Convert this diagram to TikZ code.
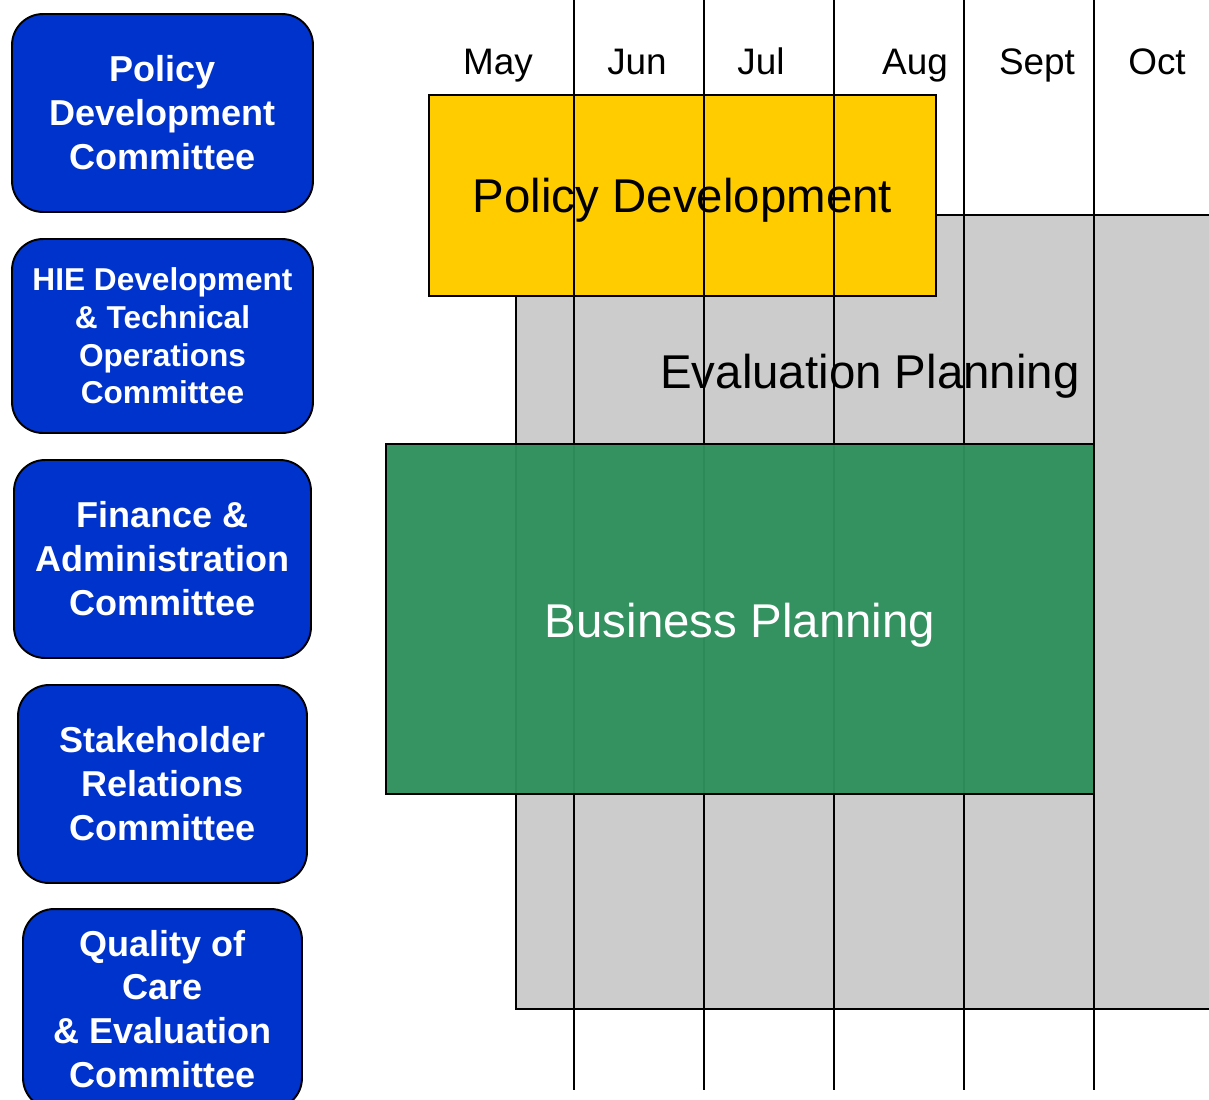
\documentclass[tikz,border=0pt]{standalone}
\usepackage{fontspec}
\setmainfont{Liberation Sans}
\usepackage{xcolor}
\usetikzlibrary{positioning}
\definecolor{cmtblue}{RGB}{0,51,204}
\definecolor{policyyellow}{RGB}{255,204,0}
\definecolor{evalgrey}{RGB}{204,204,204}
\definecolor{busgreen}{RGB}{46,143,92}
\tikzstyle{committee} = [rectangle, draw=black, line width=1.1pt, fill=cmtblue, rounded corners=0.62cm, text=white, align=center, font=\fontsize{20.5}{25}\selectfont\bfseries]
\tikzstyle{phase} = [rectangle, draw=black, line width=1.1pt, inner sep=0pt]
\tikzstyle{month} = [anchor=base, font=\fontsize{21}{25}\selectfont]
\tikzstyle{phaselabel} = [font=\fontsize{27}{32}\selectfont]
\tikzstyle{monthline} = [line width=1.1pt]

\begin{document}
\begin{tikzpicture}[x=0.02cm, y=-0.02cm]
    \useasboundingbox (0,0) rectangle (1209,1099);

    % committees
    \node (pdc) [committee, minimum width=6.02cm, minimum height=3.96cm] at (162.5,113) {Policy\\Development\\Committee};
    \node (hie) [committee, minimum width=6.02cm, minimum height=3.88cm, font=\fontsize{18}{21.5}\selectfont\bfseries] at (162.5,336) {HIE Development\\\& Technical\\Operations\\Committee};
    \node (fac) [committee, minimum width=5.94cm, minimum height=3.96cm] at (162.5,559) {Finance \&\\Administration\\Committee};
    \node (src) [committee, minimum width=5.78cm, minimum height=3.96cm] at (162.5,784) {Stakeholder\\Relations\\Committee};
    \node (qce) [committee, minimum width=5.58cm, minimum height=4.0cm] at (162.5,1009) {Quality of\\Care\\\& Evaluation\\Committee};

    % phases
    \node (eval) [phase, fill=evalgrey, minimum width=14.28cm, minimum height=15.88cm] at (873,612) {};
    \node (policy) [phase, fill=policyyellow, minimum width=10.14cm, minimum height=4.02cm] at (682.5,195.5) {};
    \node (policylabel) [phaselabel] at (682.5,200) {Policy Development};

    % month grid
    \foreach \x in {574,704,834,964,1094}
        \draw [monthline] (\x,0) -- (\x,1090);

    \node (business) [phase, fill=busgreen, fill opacity=0.96, minimum width=14.16cm, minimum height=7.0cm] at (740,619) {};
    \node (buslabel) [phaselabel, text=white] at (740,625) {Business Planning};
    \node (evallabel) [phaselabel] at (870,376) {Evaluation Planning};

    % months
    \node (may) [month] at (498,74) {May};
    \node (jun) [month] at (637,74) {Jun};
    \node (jul) [month] at (761,74) {Jul};
    \node (aug) [month] at (915,74) {Aug};
    \node (sep) [month] at (1037,74) {Sept};
    \node (oct) [month] at (1157,74) {Oct};
\end{tikzpicture}
\end{document}
